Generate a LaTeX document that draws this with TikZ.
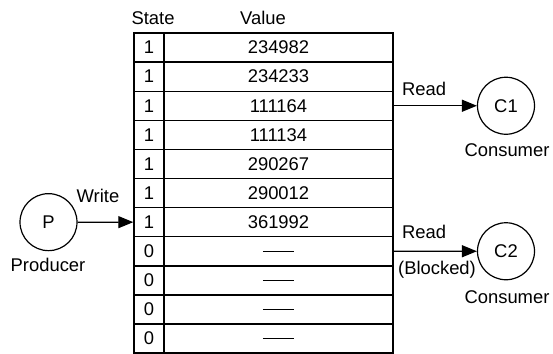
\documentclass[tikz,border=0pt]{standalone}
\usepackage{fontspec}
\setmainfont{Liberation Sans}
\usetikzlibrary{arrows.meta}

\newcommand{\novalue}{\rule{15.5pt}{0.6pt}}

\begin{document}
\begin{tikzpicture}[
        x=0.5pt, y=-0.5pt,
        every node/.style={font=\fontsize{9.2}{11}\selectfont},
        statecell/.style={draw, line width=0.7pt, minimum width=15pt, minimum height=14.55pt, inner sep=0pt},
        valuecell/.style={draw, line width=0.7pt, minimum width=114.5pt, minimum height=14.55pt, inner sep=0pt},
        proc/.style={draw, circle, line width=0.6pt, minimum size=28.5pt, inner sep=0pt},
        flow/.style={line width=0.6pt, -{Triangle[length=7.5pt, width=6pt]}},
        lbl/.style={inner sep=1pt}
      ]
      \useasboundingbox (0,0) rectangle (553,354);
      \def\rh{29.1}
      \node[lbl] (statehd) at (153,18) {State};
      \node[lbl] (valuehd) at (263,18) {Value};
      \foreach \st/\val [count=\k] in {%
        1/234982, 1/234233, 1/111164, 1/111134, 1/290267, 1/290012,
        1/361992, 0/\novalue, 0/\novalue, 0/\novalue, 0/\novalue%
      }{
        \node[statecell] (s\k) at ({149},{33+(\k-0.5)*\rh}) {\st};
        \node[valuecell] (v\k) at ({278.5},{33+(\k-0.5)*\rh}) {\val};
      }
      % producer
      \node[proc] (P) at (48.5,222.15) {P};
      \node[lbl] (prodlbl) at (48,265) {Producer};
      \node[lbl] (writelbl) at (98,196) {Write};
      \draw[flow] (P.east) -- (s7.west);
      % consumers
      \node[proc] (C1) at (506,105.75) {C1};
      \node[lbl] (cons1lbl) at (507,150) {Consumer};
      \node[lbl] (read1lbl) at (424,89) {Read};
      \draw[flow] (v3.east) -- (C1.west);
      \node[proc] (C2) at (506,251.25) {C2};
      \node[lbl] (cons2lbl) at (507,297) {Consumer};
      \node[lbl] (read2lbl) at (424,232) {Read};
      \node[lbl] (blocklbl) at (437,270) {(Blocked)};
      \draw[flow] (v8.east) -- (C2.west);
    \end{tikzpicture}
\end{document}
